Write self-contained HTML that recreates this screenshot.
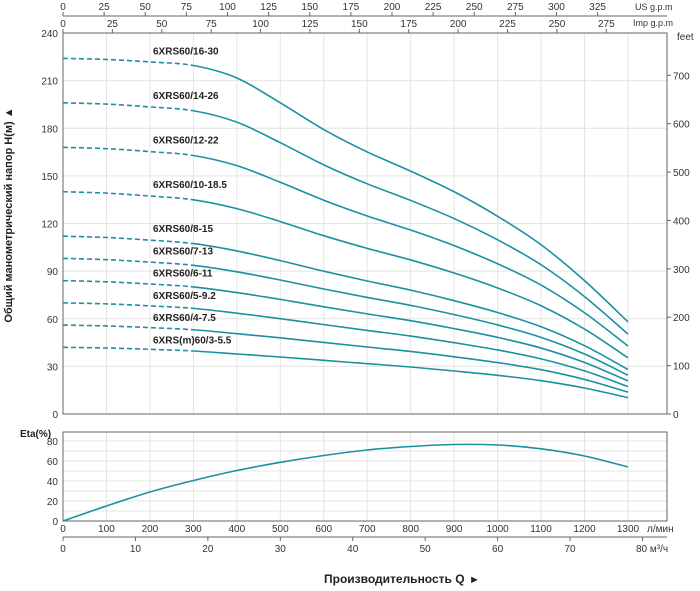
<!DOCTYPE html>
<html><head><meta charset="utf-8"><style>
html,body{margin:0;padding:0;background:#fff;}
svg{display:block;font-family:"Liberation Sans",Arial,sans-serif;}
</style></head><body>
<svg id="s" width="700" height="591" viewBox="0 0 700 591" xmlns="http://www.w3.org/2000/svg">
<g id="g"></g>
<text x="12" y="215" transform="rotate(-90 12 215)" text-anchor="middle" font-size="11" font-weight="bold" fill="#222">Общий манометрический напор H(м) ▲</text>
<text x="20" y="437" font-size="10" font-weight="bold" fill="#222">Eta(%)</text>
<text x="324" y="583" font-size="12" font-weight="bold" fill="#222">Производительность Q</text>
<text x="469" y="583" font-size="11" fill="#222">►</text>
<text x="635" y="10" font-size="9" fill="#333">US g.p.m</text>
<text x="633" y="26" font-size="9" fill="#333">Imp g.p.m</text>
<text x="677" y="40" font-size="10" fill="#333">feet</text>
<text x="647" y="532" font-size="10" fill="#333">л/мин</text>
<text x="636" y="552" font-size="10" fill="#333">80 м³/ч</text>
</svg>
<script>
(function(){
var g=document.getElementById('g'),o='';
var X=function(q){return 63+q*0.4346;},Y=function(h){return 414-h*1.5875;};
var L=63,R=667,T=33,B=414;
for(var q=100;q<=1300;q+=100)o+='<line x1="'+X(q)+'" y1="'+T+'" x2="'+X(q)+'" y2="'+B+'" stroke="#e4e4e4"/>';
for(var h=30;h<=210;h+=30)o+='<line x1="'+L+'" y1="'+Y(h)+'" x2="'+R+'" y2="'+Y(h)+'" stroke="#e4e4e4"/>';
o+='<rect x="'+L+'" y="'+T+'" width="'+(R-L)+'" height="'+(B-T)+'" fill="none" stroke="#666" stroke-width="1"/>';
for(var h=0;h<=240;h+=30)o+='<text x="58" y="'+(Y(h)+4)+'" text-anchor="end" font-size="10" fill="#333">'+h+'</text>';
for(var f=0;f<=700;f+=100){var y=Y(f*0.3048);o+='<line x1="'+R+'" y1="'+y+'" x2="'+(R+4)+'" y2="'+y+'" stroke="#666"/><text x="673" y="'+(y+4)+'" font-size="10" fill="#333">'+f+'</text>';}
o+='<line x1="63" y1="16" x2="'+R+'" y2="16" stroke="#666"/>';
for(var u=0;u<=325;u+=25){var x=X(u*3.785);o+='<line x1="'+x+'" y1="16" x2="'+x+'" y2="12" stroke="#666"/><text x="'+x+'" y="10" text-anchor="middle" font-size="10" fill="#333">'+u+'</text>';}
for(var u=0;u<=275;u+=25){var x=X(u*4.546);o+='<line x1="'+x+'" y1="33" x2="'+x+'" y2="29" stroke="#666"/><text x="'+x+'" y="27" text-anchor="middle" font-size="10" fill="#333">'+u+'</text>';}
var qs=[0,100,200,300,400,500,600,700,800,900,1000,1100,1200,1300];
var topS=[1,.997,.99,.98,.945,.875,.80,.737,.683,.625,.556,.476,.375,.259];
var botS=[1,.99,.97,.945,.9,.855,.805,.755,.705,.645,.58,.5,.39,.245];
var H0=[224,196,168,140,112,98,84,70,56,42];
var names=['6XRS60/16-30','6XRS60/14-26','6XRS60/12-22','6XRS60/10-18.5','6XRS60/8-15','6XRS60/7-13','6XRS60/6-11','6XRS60/5-9.2','6XRS60/4-7.5','6XRS(m)60/3-5.5'];
var C='#1a91a1';
function segs(pts,a,b){var d='M'+pts[a][0]+' '+pts[a][1];for(var i=a;i<b;i++){var p0=pts[i-1]||pts[i],p1=pts[i],p2=pts[i+1],p3=pts[i+2]||p2;d+=' C'+(p1[0]+(p2[0]-p0[0])/6)+' '+(p1[1]+(p2[1]-p0[1])/6)+' '+(p2[0]-(p3[0]-p1[0])/6)+' '+(p2[1]-(p3[1]-p1[1])/6)+' '+p2[0]+' '+p2[1];}return d;}
for(var k=0;k<H0.length;k++){var w=(H0[k]-42)/182,H=H0[k];
 var pts=[];for(var i=0;i<qs.length;i++){var r=w*topS[i]+(1-w)*botS[i];pts.push([X(qs[i]),Y(H*r)]);}
 o+='<path d="'+segs(pts,0,3)+'" fill="none" stroke="'+C+'" stroke-width="1.6" stroke-dasharray="5,3"/>';
 o+='<path d="'+segs(pts,3,13)+'" fill="none" stroke="'+C+'" stroke-width="1.6"/>';
 o+='<text x="153" y="'+(Y(H)-4)+'" font-size="10" font-weight="bold" fill="#222">'+names[k]+'</text>';}
var ET=432,EB=521,EY=function(e){return 521-e;};
for(var q=100;q<=1300;q+=100)o+='<line x1="'+X(q)+'" y1="'+ET+'" x2="'+X(q)+'" y2="'+EB+'" stroke="#e4e4e4"/>';
for(var e=10;e<=80;e+=10)o+='<line x1="'+L+'" y1="'+EY(e)+'" x2="'+R+'" y2="'+EY(e)+'" stroke="#e4e4e4"/>';
o+='<rect x="'+L+'" y="'+ET+'" width="'+(R-L)+'" height="'+(EB-ET)+'" fill="none" stroke="#666"/>';
for(var e=0;e<=80;e+=20)o+='<text x="58" y="'+(EY(e)+4)+'" text-anchor="end" font-size="10" fill="#333">'+e+'</text>';
var ey=[521,506,492,480.5,470.5,462.3,455.5,450,446.5,444.5,445,448.8,456,467];var ep=[];
for(var i=0;i<ey.length;i++)ep.push([X(i*100),ey[i]]);
o+='<path d="'+segs(ep,0,13)+'" fill="none" stroke="'+C+'" stroke-width="1.6"/>';
for(var q=0;q<=1300;q+=100)o+='<text x="'+X(q)+'" y="532" text-anchor="middle" font-size="10" fill="#333">'+q+'</text>';
o+='<line x1="63" y1="537" x2="'+R+'" y2="537" stroke="#666"/>';
for(var m=0;m<=80;m+=10){var x=X(m*16.667);o+='<line x1="'+x+'" y1="537" x2="'+x+'" y2="541" stroke="#666"/>';if(m<80)o+='<text x="'+x+'" y="552" text-anchor="middle" font-size="10" fill="#333">'+m+'</text>';}
g.innerHTML=o;
})();
</script>
</body></html>
